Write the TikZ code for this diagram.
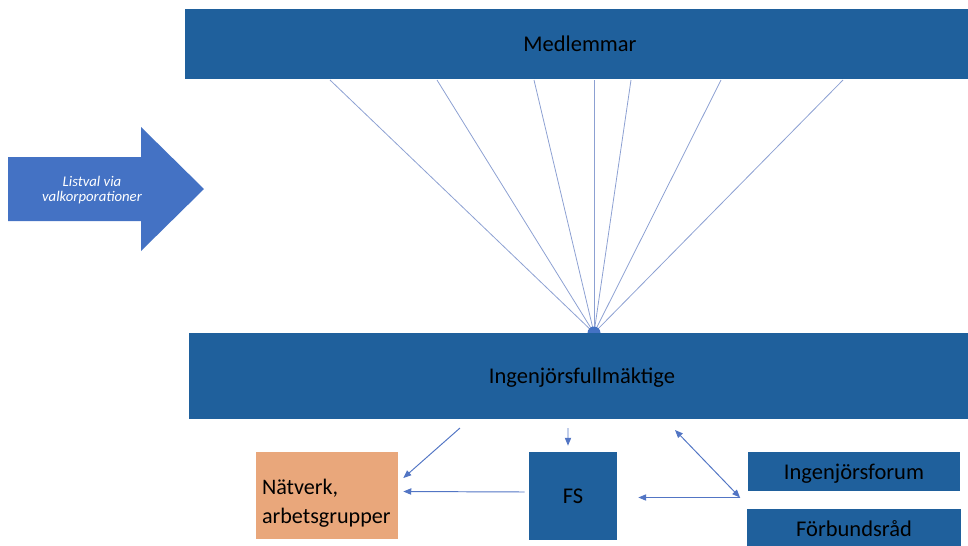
\documentclass[tikz,border=0pt]{standalone}
\usepackage{fontspec}
\setmainfont{Carlito}
\usetikzlibrary{positioning}
\usetikzlibrary{calc}
\usetikzlibrary{arrows.meta}

\definecolor{orgblue}{RGB}{31,96,156}
\definecolor{listblue}{RGB}{68,114,196}
\definecolor{groupsalmon}{RGB}{233,167,123}
\definecolor{linkblue}{RGB}{82,117,196}
\definecolor{fanblue}{RGB}{140,160,210}

\begin{document}
\begin{tikzpicture}[
		x=0.02cm, y=-0.02cm,
		organ/.style={
			shape=rectangle,
			fill=orgblue,
			text=black,
			inner sep=0pt,
			text depth=0pt,
			font=\fontsize{12.8}{15}\selectfont
		},
		group/.style={
			shape=rectangle,
			fill=groupsalmon,
			align=left,
			text width=2.6cm,
			inner xsep=0.12cm,
			minimum width=2.84cm,
			minimum height=1.74cm,
			font=\fontsize{12.6}{16.5}\selectfont
		},
		conn/.style={-{Triangle[length=4.5pt,width=3.6pt]}, draw=linkblue, line width=0.55pt},
		both/.style={{Triangle[length=4.5pt,width=3.6pt]}-{Triangle[length=4.5pt,width=3.6pt]}, draw=linkblue, line width=0.55pt},
		fan/.style={draw=fanblue, line width=0.45pt}
		]
		\useasboundingbox (0,0) rectangle (968,545);

		\fill[listblue] (8,157) -- (141,157) -- (141,127) -- (204,189) -- (141,251) -- (141,221) -- (8,221) -- cycle;
		\node[text=white, align=center, font=\fontsize{8.4}{9}\selectfont\itshape] (listval) at (92,190) {Listval via\\valkorporationer};

		\coordinate (hub) at (594,333);
		\foreach \x [count=\i] in {330,437,534,594,631,721,843} \coordinate (top\i) at (\x,80);
		\foreach \i in {1,...,7} \draw[fan] (hub) -- (top\i);
		\fill[listblue] (hub) circle (0.13cm);

		\node[organ, minimum width=15.8cm, minimum height=1.4cm] (medlem) at (580,44) {Medlemmar};
		\node[organ, minimum width=15.72cm, minimum height=1.72cm] (ifm) at (582,376) {Ingenjörsfullmäktige};
		\node[group] (natverk) at (327,495.5) {\rule{0pt}{18pt}Nätverk,\\arbetsgrupper};
		\node[organ, minimum size=1.76cm] (fs) at (573,496) {FS};
		\node[organ, minimum width=4.24cm, minimum height=0.78cm] (forum) at (854,471.5) {Ingenjörsforum};
		\node[organ, minimum width=4.28cm, minimum height=0.8cm, below=0.34cm of forum] (rad) {Förbundsråd};

		\coordinate (ifm-l) at (460,428);
		\coordinate (ifm-m) at (568,428);
		\coordinate (ifm-r) at (675,430);
		\coordinate (fork) at (740,497.5);
		\draw[conn] (ifm-l) -- ([xshift=0.1cm,yshift=0.35cm]natverk.east);
		\draw[conn] (ifm-m) -- ([xshift=-0.1cm,yshift=0.12cm]fs.north);
		\draw[conn] ([xshift=-0.08cm,yshift=0.08cm]fs.west) -- ([xshift=0.1cm,yshift=0.08cm]natverk.east);
		\draw[both] (ifm-r) -- (fork);
		\draw[conn] (fork) -- ([xshift=0.42cm,yshift=-0.03cm]fs.east);
	\end{tikzpicture}
\end{document}
